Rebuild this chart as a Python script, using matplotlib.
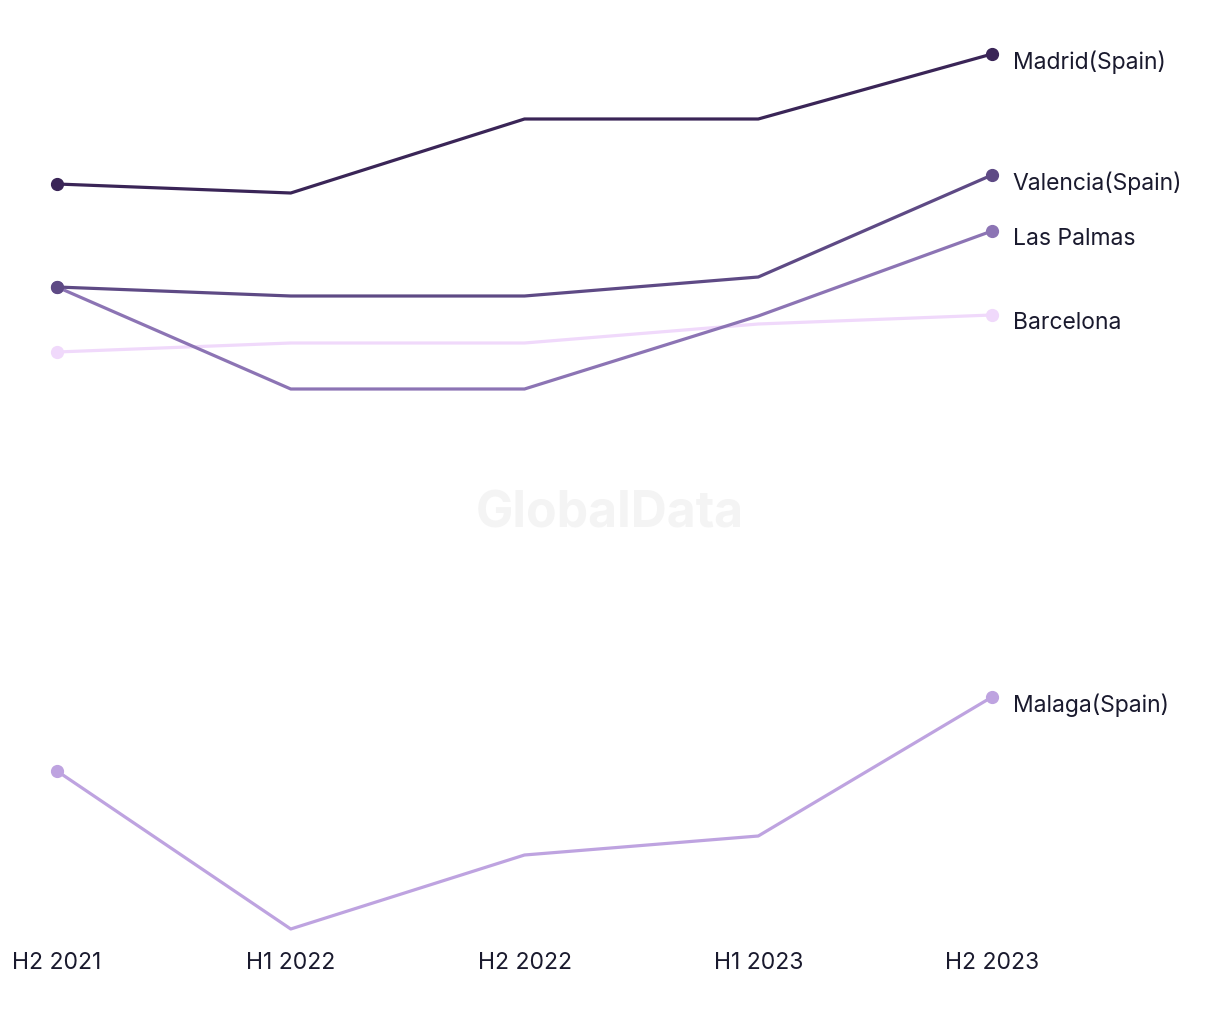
import matplotlib
matplotlib.use("Agg")
import matplotlib.pyplot as plt

periods = ["H2 2021", "H1 2022", "H2 2022", "H1 2023", "H2 2023"]
madrid = [81.6, 80.7, 88.1, 88.1, 94.6]
valencia = [71.3, 70.4, 70.4, 72.3, 82.5]
las_palmas = [71.3, 61.1, 61.1, 68.4, 76.9]
barcelona = [64.8, 65.7, 65.7, 67.6, 68.5]
malaga = [22.9, 7.1, 14.5, 16.4, 30.3]

series = [
    ("Madrid(Spain)", madrid, "#3a2557"),
    ("Valencia(Spain)", valencia, "#5e4a85"),
    ("Las Palmas", las_palmas, "#8c74b4"),
    ("Barcelona", barcelona, "#f0d9fb"),
    ("Malaga(Spain)", malaga, "#bea3e0"),
]

plt.rcParams['font.family'] = ['Inter', 'DejaVu Sans']
W, H = 1220, 1020
fig = plt.figure(figsize=(W / 100, H / 100), dpi=100)
ax = fig.add_axes([57 / W, 1 - 930 / H, (992 - 57) / W, (930 - 55) / H])

fig.text(610 / W, 1 - 514 / H, "GlobalData", ha="center", va="center",
         fontsize=36, fontweight="bold", color="#f4f4f4", zorder=0)

x = list(range(len(periods)))
for name, vals, col in series[::-1]:
    ax.plot(x, vals, color=col, lw=2.3, clip_on=False, solid_capstyle="round", zorder=2)
    ax.plot([x[0], x[-1]], [vals[0], vals[-1]], "o", color=col, ms=8.5,
            clip_on=False, zorder=3)
    ax.annotate(name, (x[-1], vals[-1]), xytext=(15, -5), textcoords="offset points",
                ha="left", va="center", fontsize=16.5, color="#1a1a2e")

ax.set_xlim(0, 4)
ax.set_ylim(7.1, 94.6)
ax.set_xticks(x)
ax.set_xticklabels(periods, fontsize=16.5, color="#1a1a2e")
ax.tick_params(axis="x", length=0, pad=15.5)
ax.set_yticks([])
for s in ax.spines.values():
    s.set_visible(False)
ax.patch.set_alpha(0)

fig.savefig("out.png", dpi=100, facecolor="white")
